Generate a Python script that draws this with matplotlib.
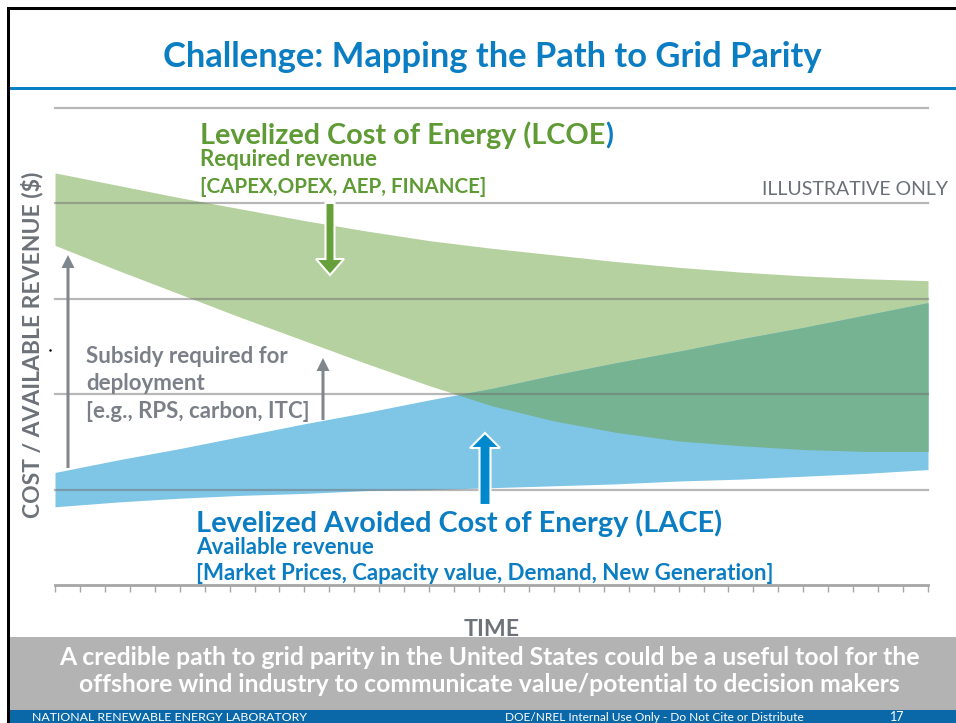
import numpy as np
import matplotlib.pyplot as plt
from matplotlib.patches import FancyArrow, Rectangle

plt.rcParams['font.family'] = ['Lato', 'DejaVu Sans']

# time steps (one tick per step, 0..35)
time = [0, 2.5, 5, 7.5, 10, 12.5, 15, 17.5, 20, 22.5, 25, 27.5, 30, 32.5, 35]
ticks = list(range(36))

# LCOE band: required revenue
lcoe_high = [4.32, 4.19, 4.06, 3.94, 3.82, 3.71, 3.61, 3.53, 3.46, 3.39, 3.33, 3.28, 3.24, 3.21, 3.19]
lcoe_low = [3.56, 3.30, 3.05, 2.80, 2.56, 2.32, 2.09, 1.88, 1.72, 1.60, 1.51, 1.46, 1.42, 1.40, 1.40]

# LACE band: available revenue
lace_high = [1.18, 1.31, 1.43, 1.56, 1.69, 1.81, 1.94, 2.06, 2.20, 2.33, 2.45, 2.58, 2.70, 2.83, 2.96]
lace_low = [0.82, 0.87, 0.91, 0.94, 0.96, 0.99, 1.00, 1.02, 1.04, 1.06, 1.09, 1.11, 1.14, 1.17, 1.21]

gridlines = [1, 2, 3, 4, 5]

GREEN = '#5f9b35'
BLUE = '#0b7dc2'
GREY = '#7b8088'

W, H = 956, 723
fig = plt.figure(figsize=(W / 100, H / 100), dpi=100)
renderer = fig.canvas.get_renderer()

# chart area
ax = fig.add_axes([55 / W, 1 - 585 / H, 873 / W, 477 / H])
ax.set_xlim(0, 35)
ax.set_ylim(0, 5)
ax.fill_between(time, lcoe_low, lcoe_high, color='#b6d1a0', lw=0)
ax.fill_between(time, lace_low, lace_high, color='#7fc5e6', lw=0)
lo = np.maximum(lcoe_low, lace_low)
hi = np.minimum(lcoe_high, lace_high)
ax.fill_between(time, lo, hi, where=hi > lo, interpolate=True, color='#76b392', lw=0)

for g in gridlines:
    ax.axhline(g, color='#707070', lw=1.6, alpha=0.5, clip_on=False)

for side in ['top', 'right', 'left']:
    ax.spines[side].set_visible(False)
ax.spines['bottom'].set_color('#a6a6a6')
ax.spines['bottom'].set_linewidth(2)
ax.set_xticks(ticks)
ax.set_yticks([])
ax.tick_params(axis='x', length=5, width=1, color='#a6a6a6', labelbottom=False)

# overlay in pixel coordinates for the slide furniture, arrows and labels
ov = fig.add_axes([0, 0, 1, 1], zorder=5)
ov.set_xlim(0, W)
ov.set_ylim(H, 0)
ov.axis('off')
ov.patch.set_alpha(0)


def put(x, y, s, width, size=None, **kw):
    # text sized so that it spans the given pixel width
    t = ov.text(x, y, s, fontsize=20, **kw)
    if size is None:
        bb = t.get_window_extent(renderer)
        ext = bb.height if kw.get('rotation') == 90 else bb.width
        size = 20 * width / ext
    t.set_fontsize(size)
    return size


# frame, title rule, bottom bands
ov.add_patch(Rectangle((7, 7), W, 3, color='black', lw=0))
ov.add_patch(Rectangle((7, 7), 3, H, color='black', lw=0))
ov.add_patch(Rectangle((10, 87), W, 3, color='#0a80c4', lw=0))
ov.add_patch(Rectangle((10, 637), W, 73, color='#b3b3b3', lw=0))
ov.add_patch(Rectangle((10, 710), W, 13, color='#0a68a8', lw=0))

put(492, 67, 'Challenge: Mapping the Path to Grid Parity', 659,
    color=BLUE, fontweight='bold', ha='center')

# LCOE labels (closing bracket in blue)
s = put(200, 144, 'Levelized Cost of Energy (LCOE)', 412, color=GREEN, fontweight='bold')
ov.texts[-1].remove()
t = ov.text(200, 144, 'Levelized Cost of Energy (LCOE', fontsize=s, color=GREEN, fontweight='bold')
bb = t.get_window_extent(renderer)
ov.text(bb.x1, 144, ')', fontsize=s, color=BLUE, fontweight='bold')
s2 = put(200, 166, 'Required revenue', 176, color=GREEN, fontweight='bold')
put(200, 193, '[CAPEX,OPEX, AEP, FINANCE]', 287, color=GREEN, fontweight='bold')
put(948, 195, 'ILLUSTRATIVE ONLY', 186, color='#6b7078', ha='right')

# subsidy note
s3 = put(86, 363, 'Subsidy required for', 202, color=GREY, fontweight='bold')
put(86, 390, 'deployment', 0, size=s3, color=GREY, fontweight='bold')
put(86, 418, '[e.g., RPS, carbon, ITC]', 0, size=s3, color=GREY, fontweight='bold')

# LACE labels
put(196, 532, 'Levelized Avoided Cost of Energy (LACE)', 525, color=BLUE, fontweight='bold')
put(196, 554, 'Available revenue', 0, size=s2, color=BLUE, fontweight='bold')
put(196, 580, '[Market Prices, Capacity value, Demand, New Generation]', 576,
    color=BLUE, fontweight='bold')

# axis titles
put(32, 345, 'COST / AVAILABLE REVENUE ($)', 345, color='#6d7278', fontweight='bold',
    rotation=90, ha='center', va='center')
put(492, 636, 'TIME', 56, color='#6d7278', fontweight='bold', ha='center')
ov.plot(50, 350, 'k.', ms=1.5)

# arrows
ov.add_patch(FancyArrow(330, 203, 0, 72, width=9, head_width=28, head_length=16,
                        length_includes_head=True, fc='#66a03a', ec='white', lw=1.5))
ov.add_patch(FancyArrow(485, 505, 0, -72, width=11, head_width=30, head_length=15,
                        length_includes_head=True, fc='#0088cc', ec='white', lw=1.5))
ov.add_patch(FancyArrow(68, 468, 0, -213, width=3, head_width=13, head_length=13,
                        length_includes_head=True, fc='#7f868c', ec='none'))
ov.add_patch(FancyArrow(323, 420, 0, -62, width=3, head_width=13, head_length=13,
                        length_includes_head=True, fc='#7f868c', ec='none'))

# takeaway band and footer
s4 = put(489, 665, 'A credible path to grid parity in the United States could be a useful tool for the',
         865, color='white', fontweight='bold', ha='center')
put(489, 692, 'offshore wind industry to communicate value/potential to decision makers', 0,
    size=s4, color='white', fontweight='bold', ha='center')
put(32, 721, 'NATIONAL RENEWABLE ENERGY LABORATORY', 276, color='white')
put(505, 721, 'DOE/NREL Internal Use Only - Do Not Cite or Distribute', 297, color='white')
put(890, 721, '17', 0, size=9, color='white')

fig.savefig('out.png', dpi=100)
